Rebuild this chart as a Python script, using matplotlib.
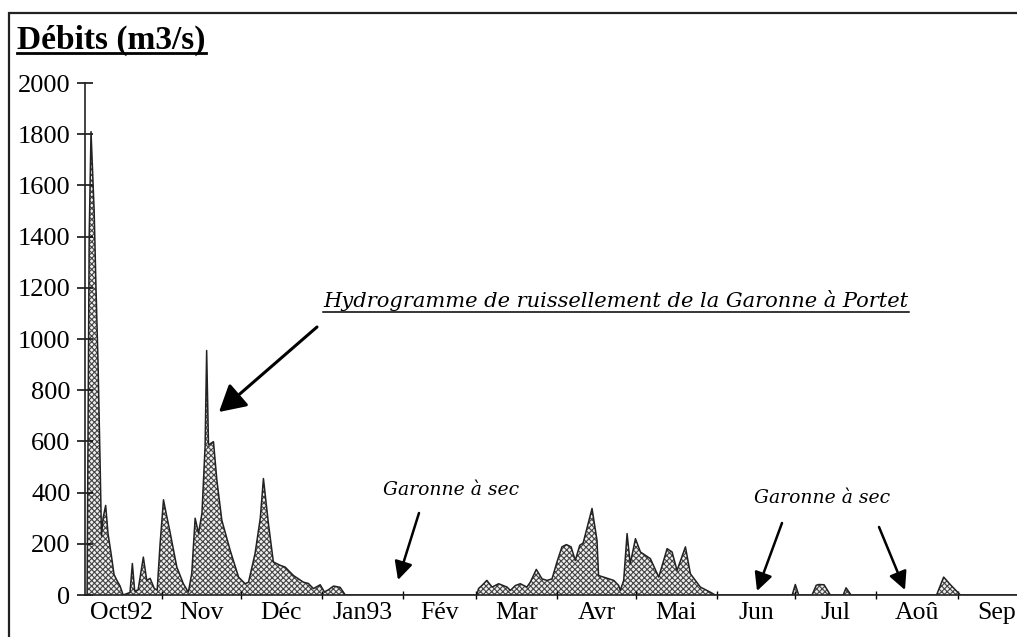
import matplotlib
matplotlib.use("Agg")
import matplotlib.pyplot as plt
from matplotlib.lines import Line2D
from matplotlib.patches import Rectangle

# daily discharge of the Garonne at Portet, Oct 1992 - Sep 1993 (day 0 = 1 Oct 1992)
days = [0, 2.3, 3.1, 3.8, 5.0, 5.7, 6.5, 7.3, 7.8, 8.4, 9.4, 10.3, 11.5, 12.6, 13.8, 14.9, 16.1,
        18.7, 19.6, 20.5, 21.8, 23.8, 25.1, 26.4, 28.0, 29.1, 30.2, 31.5, 32.5, 34.0, 36.6,
        39.1, 41.0, 42.3, 43.6, 44.9, 46.2, 47.4, 48.0, 48.7, 50.6, 51.9, 53.8, 57.0, 60.2,
        62.7, 64.0, 66.5, 68.5, 69.7, 71.6, 73.5, 76.1, 78.0, 81.2, 85.0, 86.9, 88.8, 91.4,
        93.0, 94.5, 96.5, 99.0, 101.0,
        151.3, 151.9, 153.2, 155.1, 157.1, 159.6, 162.8, 164.1, 166.0, 167.9, 170.4, 171.7,
        174.0, 176.2, 178.1, 180.0, 181.9, 183.8, 185.5, 187.3, 188.9, 190.6, 191.9, 195.3,
        197.2, 197.8, 199.7, 203.6, 205.5, 206.1, 207.4, 208.7, 209.9, 211.9, 213.8, 217.6,
        220.8, 224.0, 225.9, 227.8, 231.0, 232.9, 236.7, 240.5, 242.4,
        271.8, 273.0, 274.3, 279.4, 281.0, 282.0, 284.0, 286.4, 291.3, 292.4, 294.3,
        327.0, 329.7, 332.3, 336.1, 365]
debits = [0, 0, 1400, 1810, 1500, 1200, 900, 500, 230, 300, 350, 240, 160, 80, 55, 35, 0,
          10, 123, 15, 20, 148, 57, 65, 25, 20, 200, 372, 320, 246, 109,
          44, 11, 84, 300, 241, 319, 580, 955, 586, 599, 449, 292, 174, 70,
          44, 50, 162, 300, 455, 280, 129, 116, 109, 76, 50, 45, 25, 40,
          12, 20, 35, 30, 0,
          0, 25, 37, 57, 31, 44, 31, 18, 37, 44, 31, 50,
          100, 63, 57, 63, 129, 188, 197, 188, 135, 194, 203, 338,
          214, 76, 70, 57, 37, 18, 57, 240, 122, 220, 168, 142,
          70, 181, 168, 96, 188, 83, 31, 11, 0,
          0, 41, 0, 0, 38, 41, 40, 0, 0, 28, 0,
          0, 70, 40, 0, 0]

month_starts = [0, 31, 61, 92, 123, 151, 182, 212, 243, 273, 304, 335, 365]
month_labels = ["Oct92", "Nov", "Déc", "Jan93", "Fév", "Mar", "Avr", "Mai", "Jun", "Jul", "Aoû", "Sep"]
yticks = [0, 200, 400, 600, 800, 1000, 1200, 1400, 1600, 1800, 2000]

SERIF = "Liberation Serif"
ITAL = "DejaVu Serif"
plt.rcParams.update({"font.family": SERIF, "hatch.linewidth": 0.8})

W, H = 1017, 637
fig = plt.figure(figsize=(W / 100, H / 100), dpi=100)
ax = fig.add_axes([85 / W, 42 / H, 951 / W, 512 / H])

ax.fill_between(days, debits, 0, facecolor="#eeeeee", edgecolor="#444444", hatch="xxxxxx", lw=0)
ax.plot(days, debits, color="#222222", lw=1.1)

ax.set_xlim(1.5, 365)
ax.set_ylim(0, 2000)
for s in ("top", "right"):
    ax.spines[s].set_visible(False)
for s in ("left", "bottom"):
    ax.spines[s].set_linewidth(1.2)
    ax.spines[s].set_color("#222222")

ax.set_yticks(yticks)
ax.tick_params(axis="y", direction="inout", length=11, width=1.1, labelsize=19, pad=5)
ax.set_xticks(month_starts[1:-1])
ax.set_xticklabels([])
ax.tick_params(axis="x", which="major", direction="inout", length=6, width=1)
mids = [(a + b) / 2 for a, b in zip(month_starts[:-1], month_starts[1:])]
ax.set_xticks(mids, minor=True)
ax.set_xticklabels(month_labels, minor=True)
ax.tick_params(axis="x", which="minor", length=0, labelsize=18.5, pad=5)

# annotations
arrow_big = dict(arrowstyle="-|>,head_length=1.6,head_width=0.9", color="black", lw=2.2,
                 shrinkA=0, shrinkB=0)
arrow_small = dict(arrowstyle="-|>,head_length=1.1,head_width=0.55", color="black", lw=1.8,
                   shrinkA=0, shrinkB=0)


def fig_xy(px, py):
    return px / W, 1 - py / H


ax.annotate("", xy=fig_xy(219, 412), xytext=fig_xy(317, 327), xycoords="figure fraction",
            textcoords="figure fraction", arrowprops=arrow_big)
for tip, tail in [((398, 580), (419, 513)), ((757, 591), (782, 523)), ((905, 590), (879, 527))]:
    ax.annotate("", xy=fig_xy(*tip), xytext=fig_xy(*tail), xycoords="figure fraction",
                textcoords="figure fraction", arrowprops=arrow_small)

title = fig.text(17 / W, 1 - 49 / H, "Débits (m3/s)", fontsize=24, fontweight="bold",
                 ha="left", va="baseline")
hydro = fig.text(616 / W, 1 - 307 / H, "Hydrogramme de ruissellement de la Garonne à Portet",
                 fontsize=15.1, style="italic", family=ITAL, ha="center", va="baseline")
fig.text(451 / W, 1 - 495 / H, "Garonne à sec", fontsize=13.5, style="italic", family=ITAL,
         ha="center", va="baseline")
fig.text(822 / W, 1 - 503 / H, "Garonne à sec", fontsize=13.5, style="italic", family=ITAL,
         ha="center", va="baseline")

# underline the title and the hydrogram label
fig.canvas.draw()
rend = fig.canvas.get_renderer()
for t, off, lw in [(title, 4, 2.0), (hydro, 5, 1.1)]:
    bb = t.get_window_extent(rend)
    base_y = t.get_position()[1] - off / H
    fig.add_artist(Line2D([bb.x0 / W, bb.x1 / W], [base_y, base_y], color="black", lw=lw,
                          transform=fig.transFigure))

# outer frame of the original scan
fig.add_artist(Rectangle((9 / W, -0.1), 1.2, 1.1 - 12.5 / H, transform=fig.transFigure,
                         fill=False, lw=1.6, edgecolor="#222222"))

fig.savefig("out.png", dpi=100)
